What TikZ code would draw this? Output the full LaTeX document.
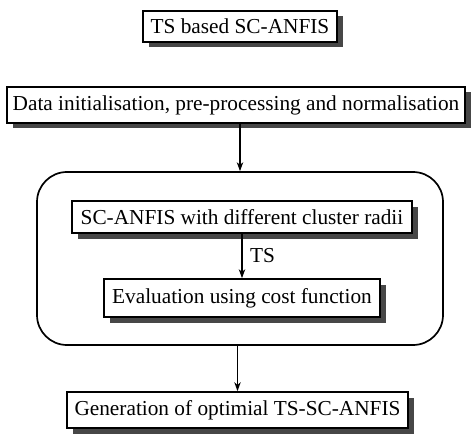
\documentclass[tikz,border=0pt]{standalone}
\usepackage{fontspec}
\setmainfont{Liberation Serif}
\usetikzlibrary{shadows,arrows.meta}
\begin{document}
\begin{tikzpicture}[x=1pt,y=-1pt,
  box/.style={draw,line width=1.7pt,fill=white,inner sep=0pt,
    font=\fontsize{21.3}{25}\selectfont,
    drop shadow={shadow xshift=5.5pt,shadow yshift=-5.5pt,fill=black!72,opacity=1}},
  outerbox/.style={draw,line width=1.7pt,rounded corners=30pt,inner sep=0pt},
  arr/.style={line width=1.4pt,-{Stealth[length=9pt,width=6.5pt]}},
  lab/.style={font=\fontsize{21.3}{25}\selectfont}]
\useasboundingbox (0,0) rectangle (472,436);
\node[box,minimum width=194pt,minimum height=31pt] (title) at (240,26.5) {TS based SC-ANFIS};
\node[box,minimum width=458pt,minimum height=36pt] (data) at (236,105) {Data initialisation, pre-processing and normalisation};
\node[outerbox,minimum width=406pt,minimum height=173pt] (outer) at (240,258.5) {};
\node[box,minimum width=340pt,minimum height=32pt] (sc) at (242,217) {SC-ANFIS with different cluster radii};
\node[box,minimum width=276pt,minimum height=38pt] (eval) at (242,298) {Evaluation using cost function};
\node[box,minimum width=341pt,minimum height=36pt] (final) at (237.5,410) {Generation of optimial TS-SC-ANFIS};
\draw[arr] (outer.north |- data.south) -- (outer.north);
\draw[arr] (sc.south) -- node[lab,right,xshift=4pt] (ts) {TS} (eval.north);
\draw[arr] (final.north |- outer.south) -- (final.north);
\end{tikzpicture}
\end{document}
